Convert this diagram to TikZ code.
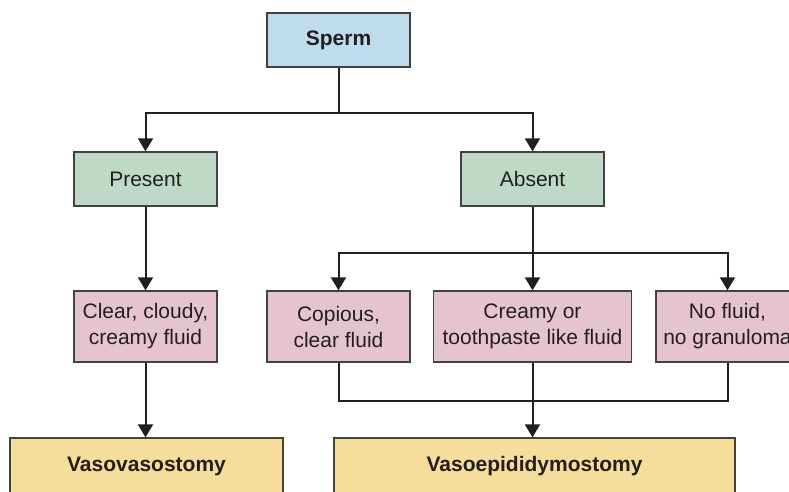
\documentclass[tikz,border=0pt]{standalone}
\usepackage{fontspec}
\setmainfont{Liberation Sans}
\usetikzlibrary{calc, arrows.meta}

\definecolor{inkgray}{HTML}{231F20}
\definecolor{spermblue}{HTML}{BEDCEE}
\definecolor{resultgreen}{HTML}{BED9C8}
\definecolor{fluidpink}{HTML}{E6C4CE}
\definecolor{surgyellow}{HTML}{F5DE9B}

\begin{document}
\begin{tikzpicture}[
  x=1pt, y=-1pt,
  box/.style={draw=inkgray!85, line width=1.3pt, inner sep=0pt, align=center,
    text=inkgray, font=\fontsize{21}{26}\selectfont},
  topbox/.style={box, fill=spermblue, minimum width=143pt, minimum height=54pt,
    font=\fontsize{21}{26}\selectfont\bfseries},
  findbox/.style={box, fill=resultgreen, minimum width=143pt, minimum height=54pt},
  fluidbox/.style={box, fill=fluidpink, minimum width=143pt, minimum height=71pt},
  opbox/.style={box, fill=surgyellow, minimum height=56pt,
    font=\fontsize{21}{26}\selectfont\bfseries},
  link/.style={draw=inkgray, line width=2pt},
  arr/.style={link, -{Triangle[length=13pt, width=15pt]}},
]

% Rahmen (Bild ist rechts und unten abgeschnitten)
\useasboundingbox (0,0) rectangle (789,491);
\clip (0,0) rectangle (789,491);

% Kästen
\node[topbox] (sperm) at (338.5, 40) {Sperm};

\node[findbox] (present) at (145.5, 179) {Present};
\node[findbox] (absent) at (532.5, 179) {Absent};

\node[fluidbox] (clear) at (145.5, 326.5) {Clear, cloudy,\\creamy fluid};
\node[fluidbox] (copious) at (338.5, 326.5) {Copious,\\clear fluid};
\node[fluidbox, minimum width=198pt] (creamy) at (532.5, 326.5) {Creamy or\\toothpaste like fluid};
\node[fluidbox] (nofluid) at (727.5, 326.5) {No fluid,\\no granuloma};

\node[opbox, minimum width=273pt] (vasovaso) at (146.5, 466) {Vasovasostomy};
\node[opbox, minimum width=401pt] (vasoepi) at (534.5, 466) {Vasoepididymostomy};

% Verzweigungspunkte
\coordinate (split1) at (338.5, 113);
\coordinate (split2) at (532.5, 253);
\coordinate (join) at (532.5, 401);

% Sperm -> Present / Absent
\draw[link] (sperm.south) -- (split1);
\draw[arr] (split1) -| (present.north);
\draw[arr] (split1) -| (absent.north);

% linker Zweig
\draw[arr] (present.south) -- (clear.north);
\draw[arr] (clear.south) -- (vasovaso.north -| clear.south);

% rechter Zweig
\draw[link] (absent.south) -- (split2);
\draw[arr] (split2) -| (copious.north);
\draw[arr] (split2) -- (creamy.north);
\draw[arr] (split2) -| (nofluid.north);

% Zusammenführung
\draw[link] (copious.south) |- (join) -| (nofluid.south);
\draw[arr] (creamy.south) -- (vasoepi.north -| creamy.south);

\end{tikzpicture}
\end{document}
